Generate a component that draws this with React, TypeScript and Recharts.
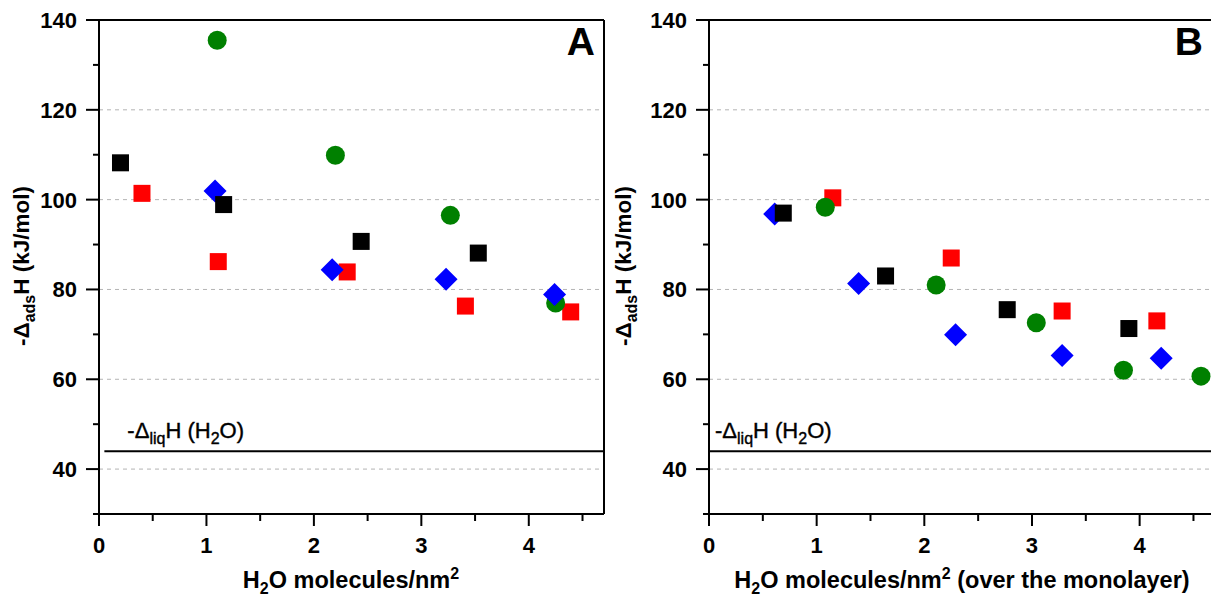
import React from 'react';
import { ScatterChart, Scatter, XAxis, YAxis, CartesianGrid, ReferenceLine } from 'recharts';

// panel A: enthalpy vs. coverage
const aRed = [
  { x: 0.4, y: 101.4 },
  { x: 1.11, y: 86.2 },
  { x: 2.31, y: 83.9 },
  { x: 3.41, y: 76.3 },
  { x: 4.39, y: 75.0 },
];
const aGreen = [
  { x: 1.1, y: 135.5 },
  { x: 2.2, y: 109.9 },
  { x: 3.27, y: 96.5 },
  { x: 4.25, y: 77.0 },
];
const aBlue = [
  { x: 1.08, y: 101.9 },
  { x: 2.17, y: 84.4 },
  { x: 3.23, y: 82.3 },
  { x: 4.24, y: 78.9 },
];
const aBlack = [
  { x: 0.2, y: 108.2 },
  { x: 1.16, y: 98.9 },
  { x: 2.44, y: 90.7 },
  { x: 3.53, y: 88.1 },
];

// panel B: over the monolayer
const bRed = [
  { x: 1.15, y: 100.4 },
  { x: 2.25, y: 87.0 },
  { x: 3.28, y: 75.2 },
  { x: 4.16, y: 73.0 },
];
const bGreen = [
  { x: 1.08, y: 98.3 },
  { x: 2.11, y: 81.0 },
  { x: 3.04, y: 72.6 },
  { x: 3.85, y: 62.0 },
  { x: 4.57, y: 60.7 },
];
const bBlue = [
  { x: 0.61, y: 96.8 },
  { x: 1.39, y: 81.3 },
  { x: 2.29, y: 69.9 },
  { x: 3.28, y: 65.3 },
  { x: 4.2, y: 64.7 },
];
const bBlack = [
  { x: 0.69, y: 97.0 },
  { x: 1.64, y: 83.0 },
  { x: 2.77, y: 75.5 },
  { x: 3.9, y: 71.3 },
];

const xTicks = [0, 0.5, 1, 1.5, 2, 2.5, 3, 3.5, 4, 4.5];
const yTicks = [30, 40, 50, 60, 70, 80, 90, 100, 110, 120, 130, 140];
const gridValues = [40, 60, 80, 100, 120];
const liqValue = 44;

const FONT = 'Arial, "Liberation Sans", sans-serif';

const square = (color: string) => (p: any) => (
  <rect x={p.cx - 8.5} y={p.cy - 8.5} width={17} height={17} fill={color} />
);
const dot = (color: string) => (p: any) => <circle cx={p.cx} cy={p.cy} r={9.5} fill={color} />;
const diamond = (color: string) => (p: any) => (
  <polygon
    points={`${p.cx},${p.cy - 11.5} ${p.cx + 11.5},${p.cy} ${p.cx},${p.cy + 11.5} ${p.cx - 11.5},${p.cy}`}
    fill={color}
  />
);

const XTick = (p: any) => {
  const major = Number.isInteger(p.payload.value);
  return (
    <g>
      <line x1={p.x} x2={p.x} y1={p.y} y2={p.y + (major ? 12 : 7)} stroke="#000" strokeWidth={2} />
      {major && (
        <text x={p.x} y={p.y + 39} textAnchor="middle" fontSize={22} fontWeight="bold" fontFamily={FONT} fill="#000">
          {p.payload.value}
        </text>
      )}
    </g>
  );
};

const YTick = (p: any) => {
  const major = p.payload.value % 20 === 0;
  return (
    <g>
      <line x1={p.x} x2={p.x - (major ? 13 : 6)} y1={p.y} y2={p.y} stroke="#000" strokeWidth={2} />
      {major && (
        <text x={p.x - 22} y={p.y + 8} textAnchor="end" fontSize={22} fontWeight="bold" fontFamily={FONT} fill="#000">
          {p.payload.value}
        </text>
      )}
    </g>
  );
};

const liqLabel = (dx: number) => (props: any) => {
  const { x, y } = props.viewBox;
  return (
    <text x={x + dx} y={y - 13} fontSize={22} fontFamily={FONT} fill="#000" stroke="#000" strokeWidth={0.4}>
      <tspan>-Δ</tspan>
      <tspan dy={6} fontSize={16}>liq</tspan>
      <tspan dy={-6}>H (H</tspan>
      <tspan dy={6} fontSize={16}>2</tspan>
      <tspan dy={-6}>O)</tspan>
    </text>
  );
};

type PanelProps = {
  left: number;
  width: number;
  marginRight: number;
  red: any[];
  green: any[];
  blue: any[];
  black: any[];
  lineStart: number;
  labelDx: number;
  rightBorder: boolean;
};

function Panel(props: PanelProps) {
  const { left, width, marginRight, red, green, blue, black, lineStart, labelDx, rightBorder } = props;
  return (
    <div style={{ position: 'absolute', left, top: 0 }}>
      <ScatterChart width={width} height={596} margin={{ top: 20, right: marginRight, bottom: 0, left: 0 }}>
        <CartesianGrid vertical={false} horizontalValues={gridValues} stroke="#b4b4b4" strokeDasharray="4 4" />
        <XAxis
          type="number"
          dataKey="x"
          domain={[0, 4.7]}
          ticks={xTicks}
          interval={0}
          allowDataOverflow
          height={82}
          tick={<XTick />}
          tickLine={false}
          tickSize={0}
          tickMargin={0}
          axisLine={{ stroke: '#000', strokeWidth: 2 }}
        />
        <YAxis
          type="number"
          dataKey="y"
          domain={[30, 140]}
          ticks={yTicks}
          interval={0}
          allowDataOverflow
          width={99}
          tick={<YTick />}
          tickLine={false}
          tickSize={0}
          tickMargin={0}
          axisLine={{ stroke: '#000', strokeWidth: 2 }}
        />
        <ReferenceLine y={140} stroke="#000" strokeWidth={2} />
        {rightBorder && <ReferenceLine x={4.7} stroke="#000" strokeWidth={2} />}
        <ReferenceLine
          segment={[
            { x: lineStart, y: liqValue },
            { x: 4.7, y: liqValue },
          ]}
          stroke="#000"
          strokeWidth={2}
          label={liqLabel(labelDx)}
        />
        <Scatter data={red} shape={square('#ff0000')} isAnimationActive={false} />
        <Scatter data={green} shape={dot('#008000')} isAnimationActive={false} />
        <Scatter data={blue} shape={diamond('#0000ff')} isAnimationActive={false} />
        <Scatter data={black} shape={square('#000000')} isAnimationActive={false} />
      </ScatterChart>
    </div>
  );
}

const titleStyle = { fontSize: 23.5, fontWeight: 'bold' as const, fontFamily: FONT, fill: '#000' };

export default function App() {
  return (
    <div
      style={{
        position: 'absolute',
        left: 0,
        top: 0,
        width: 1211,
        height: 596,
        overflow: 'hidden',
        background: '#fff',
      }}
    >
      <Panel
        left={0}
        width={620}
        marginRight={16}
        red={aRed}
        green={aGreen}
        blue={aBlue}
        black={aBlack}
        lineStart={0.05}
        labelDx={23}
        rightBorder
      />
      <Panel
        left={610}
        width={605}
        marginRight={0}
        red={bRed}
        green={bGreen}
        blue={bBlue}
        black={bBlack}
        lineStart={0}
        labelDx={6}
        rightBorder={false}
      />
      <svg
        width={1211}
        height={596}
        style={{ position: 'absolute', left: 0, top: 0, pointerEvents: 'none' }}
      >
        <text x={595} y={55} textAnchor="end" fontSize={39} fontWeight="bold" fontFamily={FONT}>
          A
        </text>
        <text x={1203} y={55} textAnchor="end" fontSize={39} fontWeight="bold" fontFamily={FONT}>
          B
        </text>

        <text x={351} y={588} textAnchor="middle" {...titleStyle}>
          <tspan>H</tspan>
          <tspan dy={6} fontSize={16}>2</tspan>
          <tspan dy={-6}>O molecules/nm</tspan>
          <tspan dy={-9} fontSize={16}>2</tspan>
        </text>
        <text x={962} y={588} textAnchor="middle" {...titleStyle}>
          <tspan>H</tspan>
          <tspan dy={6} fontSize={16}>2</tspan>
          <tspan dy={-6}>O molecules/nm</tspan>
          <tspan dy={-9} fontSize={16}>2</tspan>
          <tspan dy={9}> (over the monolayer)</tspan>
        </text>

        {[29, 631].map((bx) => (
          <text
            key={bx}
            x={bx}
            y={266}
            transform={`rotate(-90, ${bx}, 266)`}
            textAnchor="middle"
            {...titleStyle}
            fontSize={22.5}
          >
            <tspan>-Δ</tspan>
            <tspan dy={6} fontSize={16}>ads</tspan>
            <tspan dy={-6}>H (kJ/mol)</tspan>
          </text>
        ))}
      </svg>
    </div>
  );
}
